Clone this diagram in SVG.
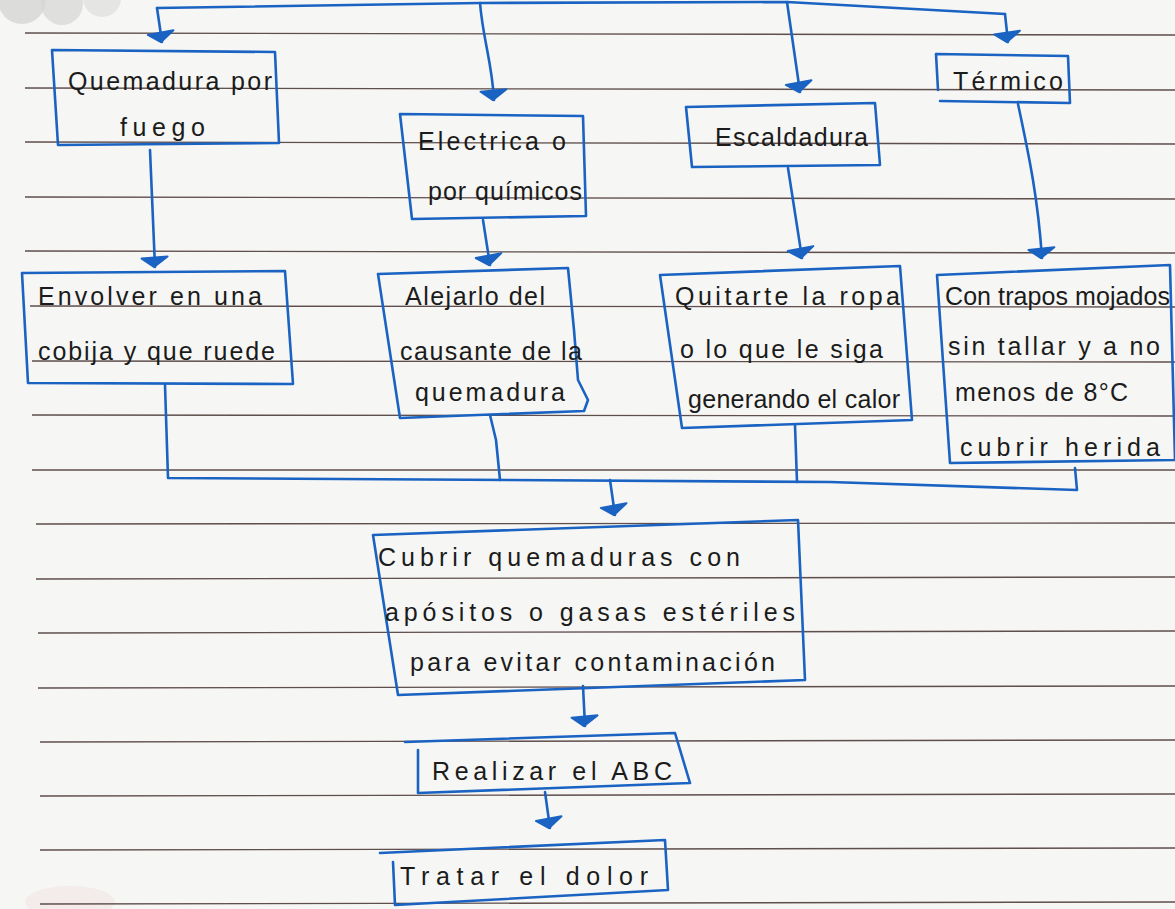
<svg xmlns="http://www.w3.org/2000/svg" width="1175" height="909" viewBox="0 0 1175 909">
<style>
.rule{stroke:#5e4e4c;stroke-width:1.4;fill:none}
.box{fill:none;stroke:#1a63c2;stroke-width:2.6;stroke-linejoin:round;stroke-linecap:round}
.con{fill:none;stroke:#1a63c2;stroke-width:2.6;stroke-linejoin:round;stroke-linecap:round}
.t{font-family:"Liberation Sans","DejaVu Sans",sans-serif;font-size:25px;fill:#1b1b1b}
</style>
<defs>
<marker id="arr" markerUnits="userSpaceOnUse" markerWidth="30" markerHeight="30" viewBox="-15 -15 30 30" refX="0" refY="0" orient="auto">
<path d="M-10,-13 L-9,13 L0,1 Z" fill="#1a63c2" stroke="#1a63c2" stroke-width="2" stroke-linejoin="round"/>
</marker>
</defs>
<rect width="1175" height="909" fill="#f6f6f4"/>
<g id="paper">
<circle cx="22" cy="0" r="24" fill="#d2d2d0" opacity="0.7"/>
<circle cx="62" cy="4" r="21" fill="#d6d6d4" opacity="0.7"/>
<circle cx="102" cy="-2" r="19" fill="#dadad8" opacity="0.6"/>
<ellipse cx="70" cy="902" rx="45" ry="16" fill="#f0e2e2" opacity="0.5"/>
<line class="rule" x1="25" y1="33" x2="1175" y2="35"/>
<line class="rule" x1="25" y1="88" x2="1175" y2="90"/>
<line class="rule" x1="25" y1="142" x2="1175" y2="144"/>
<line class="rule" x1="25" y1="197" x2="1175" y2="199"/>
<line class="rule" x1="25" y1="251" x2="1175" y2="253"/>
<line class="rule" x1="30" y1="306" x2="1175" y2="307"/>
<line class="rule" x1="32" y1="361" x2="1175" y2="362"/>
<line class="rule" x1="32" y1="415" x2="1175" y2="416"/>
<line class="rule" x1="32" y1="470" x2="1175" y2="470"/>
<line class="rule" x1="36" y1="524" x2="1175" y2="523"/>
<line class="rule" x1="36" y1="579" x2="1175" y2="577"/>
<line class="rule" x1="38" y1="633" x2="1175" y2="631"/>
<line class="rule" x1="38" y1="688" x2="1175" y2="686"/>
<line class="rule" x1="40" y1="742" x2="1175" y2="740"/>
<line class="rule" x1="40" y1="796" x2="1175" y2="794"/>
<line class="rule" x1="40" y1="850" x2="1175" y2="848"/>
<line class="rule" x1="40" y1="904" x2="1175" y2="902"/>
</g>
<g id="connectors">
<path class="con" d="M157,8 L480,3 L787,2 L1005,14"/>
<path class="con" d="M157,8 L162,42" marker-end="url(#arr)"/>
<path class="con" d="M480,3 C483,40 492,62 494,100" marker-end="url(#arr)"/>
<path class="con" d="M787,2 L800,92" marker-end="url(#arr)"/>
<path class="con" d="M1005,14 L1008,42" marker-end="url(#arr)"/>
<path class="con" d="M150,150 L155,267" marker-end="url(#arr)"/>
<path class="con" d="M483,220 L490,265" marker-end="url(#arr)"/>
<path class="con" d="M788,168 L802,258" marker-end="url(#arr)"/>
<path class="con" d="M1018,104 C1030,160 1038,200 1042,258" marker-end="url(#arr)"/>
<path class="con" d="M165,385 L168,478 L830,482 L1077,490 L1075,468"/>
<path class="con" d="M490,415 L496,440 L500,480"/>
<path class="con" d="M795,425 L797,482"/>
<path class="con" d="M610,480 L615,515" marker-end="url(#arr)"/>
<path class="con" d="M583,686 L585,726" marker-end="url(#arr)"/>
<path class="con" d="M545,792 L550,828" marker-end="url(#arr)"/>
</g>
<g id="n-fuego">
<path class="box" d="M52,50 L275,52 L279,143 L58,145 Z"/>
<text class="t" x="68" y="90" textLength="204" lengthAdjust="spacing">Quemadura por</text>
<text class="t" x="120" y="136" textLength="85" lengthAdjust="spacing">fuego</text>
</g>
<g id="n-electrica">
<path class="box" d="M400,114 L583,116 L586,216 L412,219 Z"/>
<text class="t" x="418" y="150" textLength="148" lengthAdjust="spacing">Electrica o</text>
<text class="t" x="428" y="200" textLength="154" lengthAdjust="spacing">por químicos</text>
</g>
<g id="n-escaldadura">
<path class="box" d="M686,107 L875,103 L880,165 L692,167 Z"/>
<text class="t" x="715" y="146" textLength="153" lengthAdjust="spacing">Escaldadura</text>
</g>
<g id="n-termico">
<path class="box" d="M938,90 L936,54 L1068,56 L1070,103 L940,101"/>
<text class="t" x="953" y="90" textLength="110" lengthAdjust="spacing">Térmico</text>
</g>
<g id="n-envolver">
<path class="box" d="M22,273 L285,271 L293,384 L28,383 Z"/>
<text class="t" x="38" y="305" textLength="224" lengthAdjust="spacing">Envolver en una</text>
<text class="t" x="38" y="360" textLength="237" lengthAdjust="spacing">cobija y que ruede</text>
</g>
<g id="n-alejarlo">
<path class="box" d="M378,274 L568,268 L574,330 L578,380 L588,400 L584,411 L400,418 Z"/>
<text class="t" x="405" y="305" textLength="140" lengthAdjust="spacing">Alejarlo del</text>
<text class="t" x="400" y="360" textLength="182" lengthAdjust="spacing">causante de la</text>
<text class="t" x="415" y="401" textLength="150" lengthAdjust="spacing">quemadura</text>
</g>
<g id="n-quitarte">
<path class="box" d="M660,275 L900,266 L912,420 L682,428 Z"/>
<text class="t" x="675" y="305" textLength="225" lengthAdjust="spacing">Quitarte la ropa</text>
<text class="t" x="680" y="358" textLength="203" lengthAdjust="spacing">o lo que le siga</text>
<text class="t" x="688" y="408" textLength="212" lengthAdjust="spacing">generando el calor</text>
</g>
<g id="n-trapos">
<path class="box" d="M937,275 L1170,265 L1175,460 L950,463 Z"/>
<text class="t" x="945" y="305" textLength="225" lengthAdjust="spacing">Con trapos mojados</text>
<text class="t" x="948" y="355" textLength="212" lengthAdjust="spacing">sin tallar y a no</text>
<text class="t" x="955" y="401" textLength="173" lengthAdjust="spacing">menos de 8°C</text>
<text class="t" x="960" y="456" textLength="200" lengthAdjust="spacing">cubrir herida</text>
</g>
<g id="n-cubrir">
<path class="box" d="M373,535 L798,520 L805,680 L398,695 Z"/>
<text class="t" x="378" y="566" textLength="362" lengthAdjust="spacing">Cubrir quemaduras con</text>
<text class="t" x="385" y="621" textLength="410" lengthAdjust="spacing">apósitos o gasas estériles</text>
<text class="t" x="410" y="671" textLength="365" lengthAdjust="spacing">para evitar contaminación</text>
</g>
<g id="n-abc">
<path class="box" d="M405,742 L675,733 L690,783 L418,793 L418,750"/>
<text class="t" x="432" y="780" textLength="240" lengthAdjust="spacing">Realizar el ABC</text>
</g>
<g id="n-dolor">
<path class="box" d="M380,853 L665,840 L668,890 L395,905 L393,862"/>
<text class="t" x="400" y="885" textLength="248" lengthAdjust="spacing">Tratar el dolor</text>
</g>
</svg>
